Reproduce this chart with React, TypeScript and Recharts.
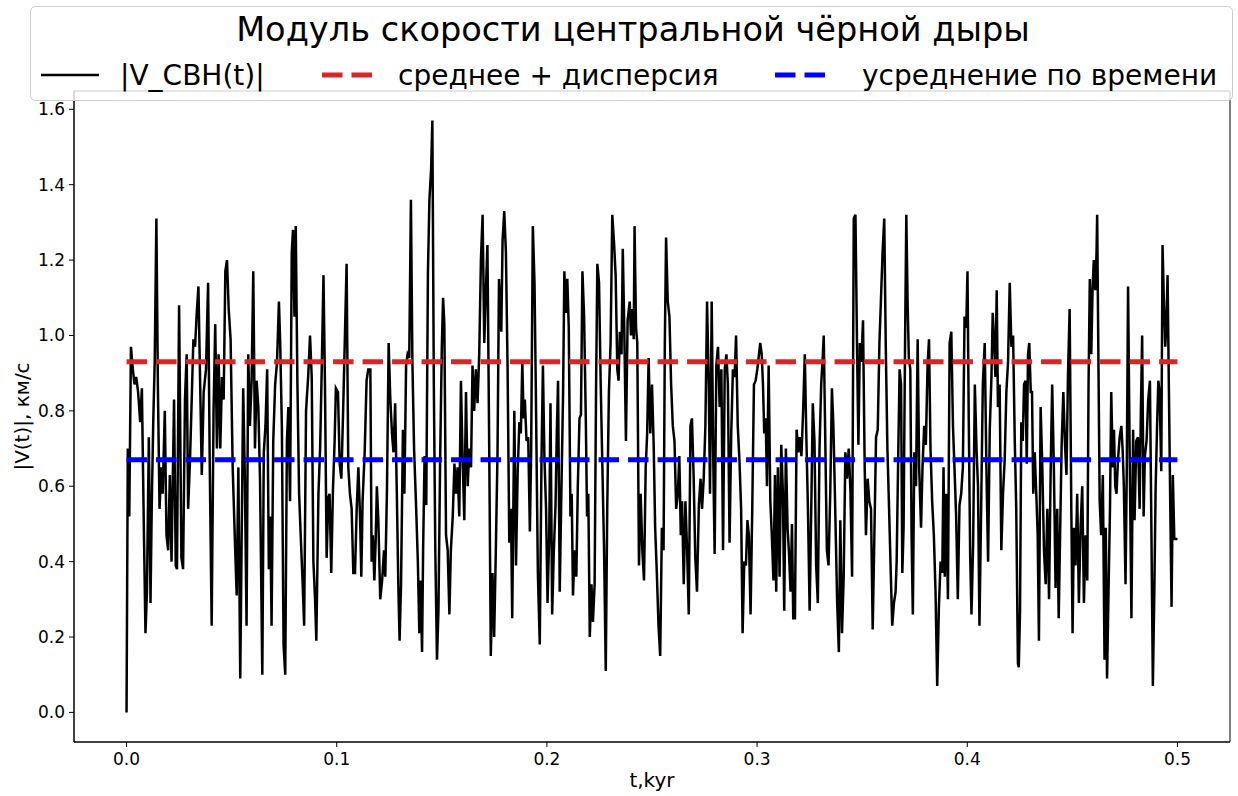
import { LineChart, Line, XAxis, YAxis, ReferenceArea, Label } from "recharts";

// |V_CBH(t)| samples: [t (kyr), |V| (km/s)]
const speedA = [
  [0, 0.0], [0.0006, 0.7], [0.0013, 0.52], [0.0021, 0.97], [0.003, 0.91], [0.0038, 0.87], [0.0046, 0.89],
  [0.0055, 0.85], [0.0065, 0.77], [0.0073, 0.86], [0.0081, 0.54], [0.009, 0.21], [0.0097, 0.32], [0.0106, 0.73],
  [0.0114, 0.29], [0.012, 0.55], [0.0127, 0.77], [0.0134, 0.93], [0.0142, 1.31], [0.0149, 0.87], [0.0157, 0.54],
  [0.0165, 0.65], [0.0172, 0.58], [0.0182, 0.8], [0.019, 0.47], [0.0198, 0.43], [0.0206, 0.63], [0.0214, 0.4],
  [0.0226, 0.83], [0.0234, 0.39], [0.024, 0.38], [0.025, 1.08], [0.0261, 0.41], [0.0269, 0.38], [0.0278, 0.83],
  [0.0286, 0.95], [0.0293, 0.54], [0.0302, 0.67], [0.0312, 0.87], [0.0318, 0.99], [0.0326, 0.97], [0.0334, 1.06],
  [0.0342, 1.13], [0.035, 0.88], [0.0358, 0.63], [0.0367, 0.85], [0.0378, 0.91], [0.0388, 1.14], [0.0396, 0.65],
  [0.0405, 0.23], [0.0414, 0.8], [0.0422, 1.03], [0.043, 0.7], [0.0438, 0.95], [0.0446, 0.7], [0.0454, 0.89],
  [0.0462, 0.83], [0.047, 1.17], [0.0478, 1.2], [0.0486, 1.07], [0.0495, 0.99], [0.0505, 0.65], [0.0511, 0.54],
  [0.0517, 0.43], [0.0524, 0.31], [0.0532, 0.65], [0.0541, 0.09],
];
const speedB = [
  [0.0555, 0.86], [0.0563, 0.62], [0.0571, 0.23], [0.0579, 0.95], [0.0587, 0.76], [0.0595, 0.88], [0.0603, 1.17],
  [0.0611, 0.7], [0.0619, 0.88], [0.0627, 0.81], [0.0635, 0.62], [0.0646, 0.1], [0.0653, 0.69], [0.0661, 0.76],
  [0.0669, 0.91], [0.0677, 0.38], [0.0684, 0.52], [0.069, 0.23], [0.0698, 0.72], [0.0707, 0.87], [0.0716, 0.93],
  [0.0725, 1.09], [0.0731, 0.98], [0.0739, 0.76], [0.0747, 0.18], [0.0755, 0.1], [0.0763, 0.72], [0.077, 0.81],
  [0.0778, 0.56], [0.0786, 1.22], [0.0792, 1.28], [0.0799, 1.05], [0.0805, 1.29], [0.0813, 0.87], [0.0821, 0.58],
  [0.083, 0.45], [0.0838, 0.34], [0.0845, 0.23], [0.0854, 0.8], [0.0864, 0.89], [0.0873, 1.0], [0.0881, 0.89],
  [0.0889, 0.4], [0.0897, 0.3], [0.0903, 0.19], [0.0913, 0.58], [0.0921, 0.7], [0.0929, 0.92], [0.0937, 1.16],
  [0.0944, 0.87], [0.0952, 0.41], [0.096, 0.57], [0.0966, 0.58], [0.0974, 0.37], [0.0982, 0.59], [0.099, 0.72],
  [0.0996, 0.86], [0.1006, 0.85], [0.1014, 0.66], [0.1022, 0.62], [0.103, 0.79], [0.1039, 1.0], [0.1047, 1.19],
  [0.1055, 0.65], [0.1063, 0.58], [0.1071, 0.54], [0.1079, 0.37], [0.1087, 0.37], [0.1095, 0.54], [0.1103, 0.65],
  [0.1111, 0.52], [0.1117, 0.36], [0.1123, 0.56], [0.1133, 0.69], [0.1142, 0.88], [0.115, 0.91],
];
const speedC = [
  [0.116, 0.91], [0.1166, 0.4], [0.1172, 0.47], [0.1179, 0.35], [0.1185, 0.45], [0.1191, 0.6], [0.1198, 0.51],
  [0.1207, 0.3], [0.1216, 0.35], [0.1225, 0.43], [0.1231, 0.36], [0.1239, 0.59], [0.1247, 0.98], [0.1255, 0.83],
  [0.1263, 0.74], [0.127, 0.69], [0.1278, 0.82], [0.1286, 0.58], [0.1293, 0.34], [0.1299, 0.19], [0.1306, 0.34],
  [0.1315, 0.75], [0.1322, 0.58], [0.133, 0.92], [0.1337, 0.95], [0.1345, 0.94], [0.1353, 1.36], [0.136, 0.93],
  [0.1368, 0.7], [0.1378, 0.54], [0.1386, 0.4], [0.1393, 0.21], [0.1399, 0.35], [0.1406, 0.16], [0.1411, 0.43],
  [0.1418, 0.68], [0.1426, 0.55], [0.1434, 1.17], [0.1441, 1.36], [0.1449, 1.44], [0.1455, 1.57], [0.1462, 0.87],
  [0.1469, 0.43], [0.1477, 0.14], [0.1484, 0.27], [0.1492, 0.67], [0.15, 0.97], [0.1506, 1.1], [0.1512, 1.03],
  [0.152, 0.47], [0.1528, 0.43], [0.1536, 0.26], [0.1543, 0.43], [0.1552, 0.52], [0.156, 0.66], [0.1567, 0.58],
  [0.1575, 0.65], [0.1583, 0.52], [0.1591, 0.88], [0.1599, 0.67], [0.1607, 0.51], [0.1615, 0.85], [0.1623, 0.6],
  [0.1631, 0.7], [0.1639, 0.65], [0.1646, 0.92], [0.1654, 0.8], [0.1662, 0.91], [0.167, 0.82], [0.1678, 0.95],
  [0.1686, 1.2], [0.1694, 1.32], [0.1702, 0.98], [0.1709, 1.11], [0.1717, 1.24], [0.1726, 0.67], [0.1733, 0.15],
  [0.1741, 0.37], [0.1749, 0.2], [0.1757, 0.43], [0.1765, 0.69], [0.1772, 1.15],
];
const speedD = [
  [0.1783, 1.01], [0.1789, 1.25], [0.1797, 1.33], [0.1805, 1.22], [0.1813, 0.91], [0.1821, 0.45], [0.1829, 0.54],
  [0.1835, 0.25], [0.1845, 0.8], [0.1853, 0.39], [0.1861, 0.64], [0.1869, 0.77], [0.1876, 0.74], [0.1883, 0.93],
  [0.1889, 0.78], [0.1895, 0.83], [0.1903, 0.72], [0.1911, 0.73], [0.1919, 0.48], [0.1925, 0.69], [0.1933, 1.29],
  [0.1941, 1.14], [0.1947, 0.87], [0.1957, 0.37], [0.1966, 0.18], [0.1974, 0.66], [0.1981, 0.92], [0.1988, 0.68],
  [0.1996, 0.54], [0.2003, 0.29], [0.2011, 0.47], [0.2017, 0.82], [0.2025, 0.26], [0.2033, 0.43], [0.2041, 0.55],
  [0.2047, 0.74], [0.2053, 0.88], [0.2061, 0.32], [0.2069, 0.59], [0.2077, 0.85], [0.2083, 1.17], [0.2091, 1.06],
  [0.2097, 1.15], [0.2104, 1.02], [0.2112, 0.52], [0.2118, 0.58], [0.2124, 0.31], [0.2132, 0.43], [0.214, 0.36],
  [0.2147, 0.6], [0.2155, 0.78], [0.2162, 0.79], [0.2169, 1.17], [0.2177, 1.05], [0.2185, 0.78], [0.2191, 0.52],
  [0.2197, 0.58], [0.2204, 0.2], [0.2212, 0.34], [0.2219, 0.24], [0.2227, 0.34], [0.2234, 0.87], [0.224, 1.19],
  [0.2248, 1.14], [0.2256, 0.87], [0.2264, 0.65], [0.2272, 0.43], [0.228, 0.11], [0.2287, 0.54], [0.2295, 0.85],
  [0.2303, 0.98], [0.2311, 1.32], [0.2319, 1.25], [0.2327, 1.16], [0.2335, 0.91], [0.2341, 0.88], [0.2347, 1.01],
  [0.2355, 0.95], [0.2361, 1.23], [0.2368, 1.02], [0.2376, 0.72], [0.2384, 1.04],
];
const speedE = [
  [0.2394, 1.09], [0.24, 1.0], [0.2407, 1.07], [0.2413, 0.99], [0.2417, 1.29], [0.2424, 1.02], [0.243, 0.98],
  [0.2438, 0.39], [0.2446, 0.58], [0.2454, 0.43], [0.2462, 0.35], [0.247, 0.65], [0.2477, 0.74], [0.2484, 0.94],
  [0.2492, 0.74], [0.25, 0.87], [0.2508, 0.71], [0.2515, 0.49], [0.2523, 0.37], [0.2531, 0.23], [0.2539, 0.15],
  [0.2547, 0.49], [0.2555, 0.43], [0.2561, 0.98], [0.2567, 1.26], [0.2575, 1.09], [0.2583, 1.05], [0.2591, 0.87],
  [0.2599, 0.76], [0.2607, 0.72], [0.2615, 0.54], [0.2623, 0.58], [0.263, 0.68], [0.2637, 0.47], [0.2643, 0.56],
  [0.2651, 0.34], [0.2659, 0.56], [0.2667, 0.43], [0.2675, 0.26], [0.2683, 0.76], [0.269, 0.78], [0.2698, 0.63],
  [0.2706, 0.41], [0.2714, 0.32], [0.2723, 0.55], [0.2731, 0.62], [0.2738, 0.54], [0.2746, 0.62], [0.2754, 0.76],
  [0.2762, 1.09], [0.277, 0.87], [0.2776, 0.58], [0.2784, 1.09], [0.2792, 0.65], [0.2798, 0.42], [0.2806, 0.92],
  [0.2814, 0.97], [0.2822, 0.81], [0.283, 0.91], [0.2838, 0.43], [0.2846, 0.91], [0.2854, 0.95], [0.2861, 0.87],
  [0.2869, 0.45], [0.2877, 0.74], [0.2885, 0.91], [0.2893, 0.89], [0.29, 1.0], [0.2908, 0.76], [0.2916, 0.67],
  [0.2924, 0.54], [0.2931, 0.21], [0.2939, 0.4], [0.2947, 0.39], [0.2954, 0.51], [0.2961, 0.47], [0.2969, 0.26],
  [0.2977, 0.54], [0.2985, 0.87], [0.2993, 0.88], [0.3001, 0.91],
];
const speedF = [
  [0.3015, 0.98], [0.3022, 0.95], [0.3028, 0.87], [0.3034, 0.74], [0.3041, 0.78], [0.3047, 0.6], [0.3055, 0.92],
  [0.3063, 0.56], [0.307, 0.47], [0.3078, 0.35], [0.3085, 0.63], [0.3091, 0.32], [0.3099, 0.65], [0.3107, 0.36],
  [0.3115, 0.71], [0.3123, 0.58], [0.3129, 0.27], [0.3137, 0.7], [0.3145, 0.49], [0.3152, 0.42], [0.3159, 0.32],
  [0.3166, 0.5], [0.3172, 0.25], [0.318, 0.25], [0.3188, 0.75], [0.3196, 0.69], [0.3203, 0.73], [0.3211, 0.68],
  [0.3219, 0.8], [0.3227, 0.95], [0.3234, 0.74], [0.3242, 0.54], [0.325, 0.27], [0.3258, 0.55], [0.3265, 0.82],
  [0.3273, 0.72], [0.3281, 0.39], [0.3289, 0.29], [0.3297, 0.7], [0.3305, 0.87], [0.3313, 0.95], [0.3317, 1.0],
  [0.3324, 0.74], [0.3332, 0.43], [0.334, 0.39], [0.3348, 0.58], [0.3356, 0.86], [0.3363, 0.76], [0.3371, 0.56],
  [0.3381, 0.29], [0.3389, 0.16], [0.3396, 0.51], [0.3404, 0.21], [0.3412, 0.36], [0.342, 0.69], [0.3428, 0.62],
  [0.3436, 0.7], [0.3444, 0.59], [0.3452, 0.36], [0.346, 1.31], [0.3468, 1.32], [0.3476, 0.95], [0.3482, 0.71],
  [0.3489, 0.98], [0.3496, 0.93], [0.3504, 1.04], [0.3512, 0.65], [0.3518, 0.47], [0.3526, 0.62], [0.3534, 0.56],
  [0.3542, 0.54], [0.355, 0.22], [0.3558, 0.47], [0.3566, 0.73], [0.3574, 0.75], [0.3582, 0.98], [0.3589, 1.09],
  [0.3597, 1.22], [0.3605, 1.31], [0.3612, 0.98], [0.362, 0.7], [0.3628, 0.54], [0.3636, 0.37], [0.3643, 0.23],
  [0.3651, 0.29], [0.3659, 0.32],
];
const speedG = [
  [0.3664, 0.4], [0.3672, 0.7], [0.3678, 0.91], [0.3685, 0.87], [0.3691, 0.37], [0.3697, 0.49], [0.3704, 0.98],
  [0.371, 1.32], [0.3716, 1.09], [0.3722, 0.94], [0.3729, 0.91], [0.3735, 0.47], [0.3741, 0.26], [0.3748, 0.69],
  [0.3756, 0.6], [0.3764, 0.99], [0.3771, 0.65], [0.378, 0.49], [0.3787, 0.65], [0.3795, 0.76], [0.3803, 0.71],
  [0.3811, 0.92], [0.3818, 0.99], [0.3825, 0.7], [0.3833, 0.56], [0.3841, 0.47], [0.3849, 0.32], [0.3857, 0.07],
  [0.3865, 0.28], [0.3873, 0.4], [0.3881, 0.37], [0.3887, 0.65], [0.3893, 0.36], [0.39, 0.58], [0.3908, 0.3],
  [0.3916, 0.98], [0.3924, 1.01], [0.3932, 0.76], [0.3939, 0.65], [0.3947, 0.52], [0.3955, 0.3], [0.3963, 0.55],
  [0.3971, 0.58], [0.3979, 0.65], [0.3987, 1.05], [0.3995, 1.02], [0.4001, 1.17], [0.4007, 0.78], [0.4014, 0.41],
  [0.402, 0.26], [0.4028, 0.45], [0.4036, 0.87], [0.4044, 0.7], [0.4051, 0.6], [0.4058, 0.23], [0.4066, 0.54],
  [0.4074, 0.87], [0.4083, 0.98], [0.4091, 0.65], [0.4099, 0.4], [0.4107, 0.75], [0.4115, 0.89], [0.4121, 1.06],
  [0.4128, 0.98], [0.4134, 0.89], [0.414, 1.12], [0.4146, 0.81], [0.4154, 0.87], [0.4162, 0.43], [0.417, 0.58],
  [0.4178, 0.67], [0.4186, 0.85], [0.4194, 0.93], [0.4202, 1.14], [0.421, 0.97], [0.4218, 1.0], [0.4226, 0.72],
  [0.4233, 0.54], [0.4241, 0.13],
];
const speedH = [
  [0.4245, 0.12], [0.4251, 0.27], [0.4257, 0.77], [0.4264, 0.72], [0.427, 0.87], [0.4277, 0.88], [0.4283, 0.66],
  [0.4289, 0.95], [0.4295, 0.98], [0.4302, 0.85], [0.4308, 0.85], [0.4314, 0.58], [0.4321, 0.69], [0.4329, 0.57],
  [0.4335, 0.47], [0.4341, 0.19], [0.4349, 0.81], [0.4357, 0.65], [0.4365, 0.43], [0.4373, 0.34], [0.4381, 0.54],
  [0.4389, 0.3], [0.4397, 0.65], [0.4404, 0.87], [0.4412, 0.65], [0.442, 0.33], [0.4428, 0.54], [0.4435, 0.25],
  [0.4441, 0.45], [0.4449, 0.71], [0.4457, 0.85], [0.4465, 0.71], [0.4472, 0.63], [0.4479, 0.89], [0.4487, 1.07],
  [0.4495, 0.54], [0.4501, 0.21], [0.4507, 0.49], [0.4515, 0.39], [0.4523, 0.58], [0.4531, 0.29], [0.4539, 0.49],
  [0.4547, 0.6], [0.4555, 0.29], [0.4563, 0.47], [0.4571, 0.35], [0.4577, 0.87], [0.4583, 1.15], [0.459, 0.95],
  [0.4596, 1.12], [0.4602, 1.2], [0.4609, 1.12], [0.4615, 1.22], [0.4618, 1.32], [0.4624, 0.93], [0.463, 0.56],
  [0.4637, 0.47], [0.4645, 0.63], [0.4653, 0.14], [0.4659, 0.49], [0.4665, 0.09], [0.4672, 0.32], [0.4679, 0.54],
  [0.4685, 0.85], [0.4692, 0.65], [0.4698, 0.75], [0.4704, 0.6], [0.471, 0.58], [0.4717, 0.67], [0.4725, 0.73],
  [0.4733, 0.76], [0.4739, 0.7], [0.4745, 0.6], [0.4753, 0.34], [0.4759, 0.65], [0.4765, 1.13], [0.4773, 0.67],
  [0.4781, 0.25], [0.4789, 0.75], [0.4796, 0.51], [0.4804, 0.72], [0.4812, 0.73], [0.482, 0.54], [0.4826, 0.8],
  [0.4832, 1.0], [0.4839, 0.52], [0.4845, 0.68], [0.4853, 0.72], [0.4861, 0.83], [0.4869, 0.88], [0.4877, 0.43],
  [0.4883, 0.07], [0.489, 0.32], [0.4896, 0.59], [0.4903, 0.76], [0.4909, 0.88], [0.4915, 0.85], [0.4923, 0.64],
  [0.4929, 1.24], [0.4935, 1.1], [0.4942, 0.97], [0.4948, 1.04], [0.4953, 1.16], [0.4959, 0.87], [0.4966, 0.54],
  [0.4972, 0.28], [0.4978, 0.63], [0.4985, 0.46], [0.5, 0.46],
];

const meanPlusDispersion = 0.93;
const timeAverage = 0.67;
const timeSpan = [0, 0.5];

const xTicks = [0, 0.1, 0.2, 0.3, 0.4, 0.5];
const yTicks = [0, 0.2, 0.4, 0.6, 0.8, 1.0, 1.2, 1.4, 1.6];

const legendTitle = "Модуль скорости центральной чёрной дыры";
const legendLabels = ["|V_CBH(t)|", "среднее + дисперсия", "усреднение по времени"];
const xLabel = "t,kyr";
const yLabel = "|V(t)|, км/с";

const FONT = "DejaVu Sans";
const X_DOMAIN = [-0.025, 0.525];
const Y_DOMAIN = [-0.0785, 1.6485];

const speed = [...speedA, ...speedB, ...speedC, ...speedD, ...speedE, ...speedF, ...speedG, ...speedH].map(
  ([t, v]) => ({ t, v })
);
const meanLine = timeSpan.map((t) => ({ t, v: meanPlusDispersion }));
const avgLine = timeSpan.map((t) => ({ t, v: timeAverage }));

const tickStyle = { fontSize: 17, fill: "#000", fontFamily: FONT };

const LegendBox = () => (
  <svg
    width={1238}
    height={796}
    style={{ position: "absolute", left: 0, top: 0, pointerEvents: "none" }}
  >
    <rect x={30.5} y={6.5} width={1202} height={94} rx={5} fill="#fff" fillOpacity={0.8} stroke="#cccccc" />
    <text x={633} y={41} textAnchor="middle" fontSize={33.6} fontFamily={FONT} fill="#000">
      {legendTitle}
    </text>
    <line x1={41} x2={99} y1={75} y2={75} stroke="#000" strokeWidth={2.5} />
    <text x={120} y={85} fontSize={28} fontFamily={FONT} fill="#000">
      {legendLabels[0]}
    </text>
    <line x1={322} x2={372} y1={75} y2={75} stroke="#d62728" strokeWidth={5} strokeDasharray="20.5 9" />
    <text x={398} y={85} fontSize={28} fontFamily={FONT} fill="#000">
      {legendLabels[1]}
    </text>
    <line x1={775} x2={825} y1={75} y2={75} stroke="#0000ff" strokeWidth={5} strokeDasharray="20.5 9" />
    <text x={862} y={85} fontSize={28} fontFamily={FONT} fill="#000">
      {legendLabels[2]}
    </text>
  </svg>
);

export default function App() {
  return (
    <div style={{ position: "absolute", left: 0, top: 0, width: 1238, height: 796, background: "#fff" }}>
      <LineChart width={1238} height={796} data={speed} margin={{ top: 91, right: 8, bottom: 0, left: 0 }}>
        <XAxis
          dataKey="t"
          type="number"
          domain={X_DOMAIN}
          ticks={xTicks}
          allowDataOverflow
          tickFormatter={(v: number) => v.toFixed(1)}
          tick={tickStyle}
          tickSize={5}
          tickMargin={6}
          height={54}
          stroke="#000"
        >
          <Label
            value={xLabel}
            position="insideBottom"
            offset={9}
            style={{ fontSize: 20, fill: "#000", fontFamily: FONT }}
          />
        </XAxis>
        <YAxis
          type="number"
          domain={Y_DOMAIN}
          ticks={yTicks}
          allowDataOverflow
          tickFormatter={(v: number) => v.toFixed(1)}
          tick={tickStyle}
          tickSize={5}
          tickMargin={4}
          width={74}
          stroke="#000"
        >
          <Label
            content={({ viewBox }: any) => {
              const cy = viewBox.y + viewBox.height / 2;
              return (
                <text
                  x={29}
                  y={cy}
                  transform={`rotate(-90 29 ${cy})`}
                  textAnchor="middle"
                  fontSize={20}
                  fontFamily={FONT}
                  fill="#000"
                >
                  {yLabel}
                </text>
              );
            }}
          />
        </YAxis>
        <ReferenceArea
          x1={X_DOMAIN[0]}
          x2={X_DOMAIN[1]}
          y1={Y_DOMAIN[0]}
          y2={Y_DOMAIN[1]}
          fill="none"
          stroke="#000"
          strokeWidth={1}
          ifOverflow="visible"
        />
        <Line
          dataKey="v"
          type="linear"
          stroke="#000"
          strokeWidth={2.5}
          dot={false}
          isAnimationActive={false}
        />
        <Line
          data={meanLine}
          dataKey="v"
          type="linear"
          stroke="#d62728"
          strokeWidth={5}
          strokeDasharray="20.5 9"
          dot={false}
          isAnimationActive={false}
        />
        <Line
          data={avgLine}
          dataKey="v"
          type="linear"
          stroke="#0000ff"
          strokeWidth={5}
          strokeDasharray="20.5 9"
          dot={false}
          isAnimationActive={false}
        />
      </LineChart>
      <LegendBox />
    </div>
  );
}
